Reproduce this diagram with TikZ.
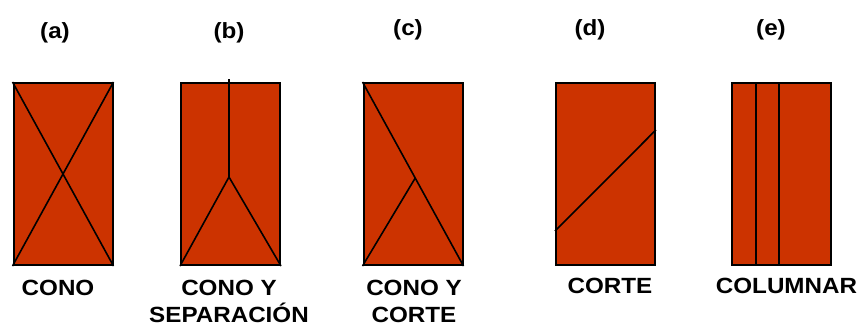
\documentclass[tikz,border=0pt]{standalone}
\usepackage{fontspec}
\newfontfamily\labelfont[FakeStretch=1.1]{Liberation Sans}
\usepackage{tikz}
\usetikzlibrary{calc, positioning}
\usepackage{xcolor}
\definecolor{rockred}{RGB}{204,51,0}

\begin{document}
\begin{tikzpicture}[
                x=1pt, y=-1pt,
                line join=miter,
                rockbox/.style={shape=rectangle, fill=rockred, draw=black, line width=2pt, minimum width=99pt, minimum height=182pt, inner sep=0pt},
                cutline/.style={draw=black, line width=1.6pt},
                tagtext/.style={font=\labelfont\bfseries\fontsize{22}{27}\selectfont, inner sep=0pt},
                nametext/.style={font=\labelfont\bfseries\fontsize{22}{27}\selectfont, inner sep=0pt, anchor=north, align=center}
                ]
                \useasboundingbox (0,0) rectangle (862,325);

                %% Boxes
                \node[rockbox] (cono) at (63,174) {};
                \node[rockbox] (sep) at (230.5,174) {};
                \node[rockbox] (conocorte) at (413,174) {};
                \node[rockbox] (corte) at (605.5,174) {};
                \node[rockbox] (columnar) at (781,174) {};

                        % Fracture lines
\draw[cutline] (cono.north west) -- (cono.south east);
\draw[cutline] (cono.south west) -- (cono.north east);

\coordinate (sepjoin) at ($(sep.north west)!0.485!(sep.north east) + (0,95)$);
\coordinate (septop) at ($(sep.north west)!0.485!(sep.north east) + (0,-3)$);
\draw[cutline] (septop) -- (sepjoin);
\draw[cutline] (sep.south west) -- (sepjoin) -- (sep.south east);

\coordinate (ccjoin) at ($(conocorte.north west)!0.522!(conocorte.south east)$);
\draw[cutline] (conocorte.north west) -- (conocorte.south east);
\draw[cutline] (conocorte.south west) -- (ccjoin);

\coordinate (corteleft) at ($(corte.north west)!0.81!(corte.south west)$);
\coordinate (corteright) at ($(corte.north east)!0.26!(corte.south east)$);
\draw[cutline] (corteleft) -- (corteright);

\draw[cutline] ($(columnar.north west)!0.25!(columnar.north east)$) -- ($(columnar.south west)!0.25!(columnar.south east)$);
\draw[cutline] ($(columnar.north west)!0.48!(columnar.north east)$) -- ($(columnar.south west)!0.48!(columnar.south east)$);

%% Tags
                    \node[tagtext] (taga) at (55,32.5) {(a)};
                    \node[tagtext] (tagb) at (229,32.5) {(b)};
                    \node[tagtext] (tagc) at (408,30) {(c)};
                    \node[tagtext] (tagd) at (590,30) {(d)};
                    \node[tagtext] (tage) at (771,30) {(e)};

%% Names
                    \node[nametext] (namea) at (58,280) {CONO};
                    \node[nametext] (nameb) at (229,280) {CONO Y\\SEPARACIÓN};
                    \node[nametext] (namec) at (414,280) {CONO Y\\CORTE};
                    \node[nametext] (named) at (610,278) {CORTE};
                    \node[nametext] (namee) at (786.5,278) {COLUMNAR};
                    \end{tikzpicture}
\end{document}
